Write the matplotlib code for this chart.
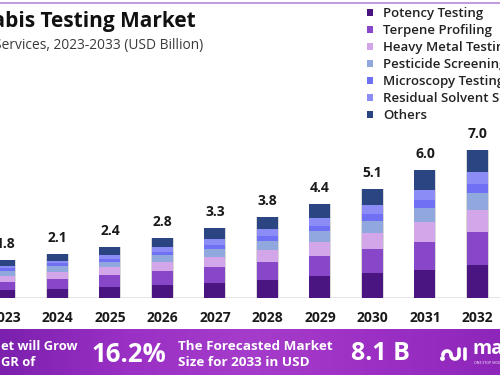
import matplotlib
matplotlib.use("Agg")
import matplotlib.pyplot as plt
import numpy as np
import matplotlib.colors as mcolors

years = [2023, 2024, 2025, 2026, 2027, 2028, 2029, 2030, 2031, 2032, 2033]
series_names = ["Potency Testing", "Terpene Profiling", "Heavy Metal Testing",
                "Pesticide Screening", "Microscopy Testing",
                "Residual Solvent Screening", "Others"]
potency = [0.39, 0.44, 0.52, 0.63, 0.70, 0.86, 1.02, 1.17, 1.33, 1.56, 1.80]
terpene = [0.36, 0.47, 0.55, 0.63, 0.75, 0.85, 0.94, 1.13, 1.33, 1.56, 1.80]
heavy_metal = [0.30, 0.31, 0.38, 0.42, 0.50, 0.56, 0.70, 0.75, 0.91, 1.05, 1.22]
pesticide = [0.23, 0.27, 0.25, 0.33, 0.38, 0.44, 0.50, 0.59, 0.66, 0.78, 0.90]
microscopy = [0.13, 0.14, 0.16, 0.14, 0.19, 0.22, 0.23, 0.31, 0.39, 0.44, 0.50]
residual = [0.11, 0.13, 0.19, 0.25, 0.25, 0.31, 0.39, 0.42, 0.47, 0.53, 0.60]
others = [0.25, 0.33, 0.35, 0.42, 0.52, 0.56, 0.64, 0.78, 0.94, 1.06, 1.28]
totals = [1.8, 2.1, 2.4, 2.8, 3.3, 3.8, 4.4, 5.1, 6.0, 7.0, 8.1]
colors = ["#4a1580", "#8747c8", "#d3a6ea", "#91a8de", "#7070f4", "#8c8cf6", "#2b4482"]

title = "Cannabis Testing Market"
subtitle = "Services, 2023-2033 (USD Billion)"
cagr_lines = ["et will Grow", "GR of"]
cagr_value = "16.2%"
forecast_lines = ["The Forecasted Market", "Size for 2033 in USD"]
forecast_value = "8.1 B"

plt.rcParams['font.family'] = ['Open Sans', 'DejaVu Sans']

W, H = 500, 383
fig = plt.figure(figsize=(W / 100, H / 100), dpi=100)

def fx(px):
    return px / W

def fy(py):
    return 1 - py / H

# top thin line
fig.add_artist(plt.Line2D([0, 1], [fy(2.5), fy(2.5)], color="#b689d4", lw=1.2))

# bars axes
base_px = 298
top_px = 100
ppu = 21.2
ax = fig.add_axes([0, fy(base_px), 1, (base_px - top_px) / H])
ax.patch.set_alpha(0)
x0 = 2023 - 5 / 52.5
x1 = 2023 + 495 / 52.5
ax.set_xlim(x0, x1)
ax.set_ylim(0, (base_px - top_px) / ppu)
for s in ax.spines.values():
    s.set_visible(False)
ax.set_xticks([])
ax.set_yticks([])

ax.axhline(0, color="#e2e2e2", lw=2.0, zorder=1)

data = [potency, terpene, heavy_metal, pesticide, microscopy, residual, others]
bottom = np.zeros(len(years))
handles = []
for vals, c, name in zip(data, colors, series_names):
    b = ax.bar(years, vals, width=0.4, bottom=bottom, color=c, label=name,
               edgecolor="none", zorder=3)
    handles.append(b)
    bottom += np.array(vals)

# subtle bar shadow
ax.bar(years, bottom, width=0.43, color="#d8d8d8", zorder=2, edgecolor="none")

for yr, tot, h in zip(years, totals, bottom):
    ax.annotate(f"{tot:.1f}", xy=(yr, h), xytext=(0, 16 * 0.72),
                textcoords="offset points", ha="center", va="center",
                fontsize=10, fontweight="bold", color="#1a1a1a")
    ax.annotate(str(yr), xy=(yr, 0), xytext=(0, -20 * 0.72),
                textcoords="offset points", ha="center", va="center",
                fontsize=10, fontweight="bold", color="#1a1a1a",
                annotation_clip=False)

# title & subtitle
fig.text(fx(196), fy(21), title, ha="right", va="center", fontsize=15,
         fontweight="bold", color="#111111")
fig.text(fx(203), fy(46), subtitle, ha="right", va="center", fontsize=9.9,
         color="#3a3a3a")

# legend
leg = fig.legend(handles=handles, labels=series_names, loc="upper left",
                 bbox_to_anchor=(fx(367), fy(7)), frameon=False,
                 fontsize=9.5, handlelength=0.45, handleheight=0.45,
                 handletextpad=0.75, labelspacing=0.30, borderpad=0,
                 borderaxespad=0)
for t in leg.get_texts():
    t.set_fontweight("semibold")
    t.set_color("#222222")

# banner
bax = fig.add_axes([0, fy(375), 1, 46 / H])
cmap = mcolors.LinearSegmentedColormap.from_list(
    "ban", ["#7c20ae", "#9a30c4", "#a63ccb", "#9c30c4", "#8e26ba"])
grad = np.linspace(0, 1, 256).reshape(1, -1)
bax.imshow(grad, aspect="auto", cmap=cmap, extent=[0, 1, 0, 1])
bax.set_axis_off()

fig.text(fx(1), fy(347), cagr_lines[0], ha="left", va="center", fontsize=9.3,
         fontweight="bold", color="white")
fig.text(fx(1), fy(363), cagr_lines[1], ha="left", va="center", fontsize=9.3,
         fontweight="bold", color="white")
fig.text(fx(92), fy(354), cagr_value, ha="left", va="center", fontsize=18.5,
         fontweight="bold", color="white")
fig.text(fx(178), fy(347), forecast_lines[0], ha="left", va="center",
         fontsize=9.7, fontweight="bold", color="white")
fig.text(fx(178), fy(363), forecast_lines[1], ha="left", va="center",
         fontsize=9.7, fontweight="bold", color="white")
fig.text(fx(351), fy(354), forecast_value, ha="left", va="center",
         fontsize=18, fontweight="bold", color="white")

# logo
fig.text(fx(472), fy(349), "market.us", ha="left", va="center",
         fontsize=14, fontweight="bold", color="white")
fig.text(fx(474), fy(363), "ONE STOP SHOP FOR THE REPORTS", ha="left",
         va="center", fontsize=2.5, color="white")
logo_ax = fig.add_axes([fx(440), fy(364), 28 / W, 20 / H])
logo_ax.set_xlim(0, 28)
logo_ax.set_ylim(0, 20)
logo_ax.set_axis_off()
logo_ax.patch.set_alpha(0)
t = np.linspace(0, np.pi, 30)
logo_ax.plot(7 + 4 * np.cos(t), 9 + 4 * np.sin(t), color="white", lw=2.6,
             solid_capstyle="round")
logo_ax.plot(15 + 4 * np.cos(t), 9 - 4 * np.sin(t), color="white", lw=2.6,
             solid_capstyle="round")
logo_ax.plot([19, 19], [9, 15], color="white", lw=2.6, solid_capstyle="round")
logo_ax.plot([25, 25], [5, 15], color="white", lw=2.6, solid_capstyle="round")
logo_ax.plot([1.5], [6], "o", color="white", ms=2.5)

fig.savefig("out.png", dpi=100)
